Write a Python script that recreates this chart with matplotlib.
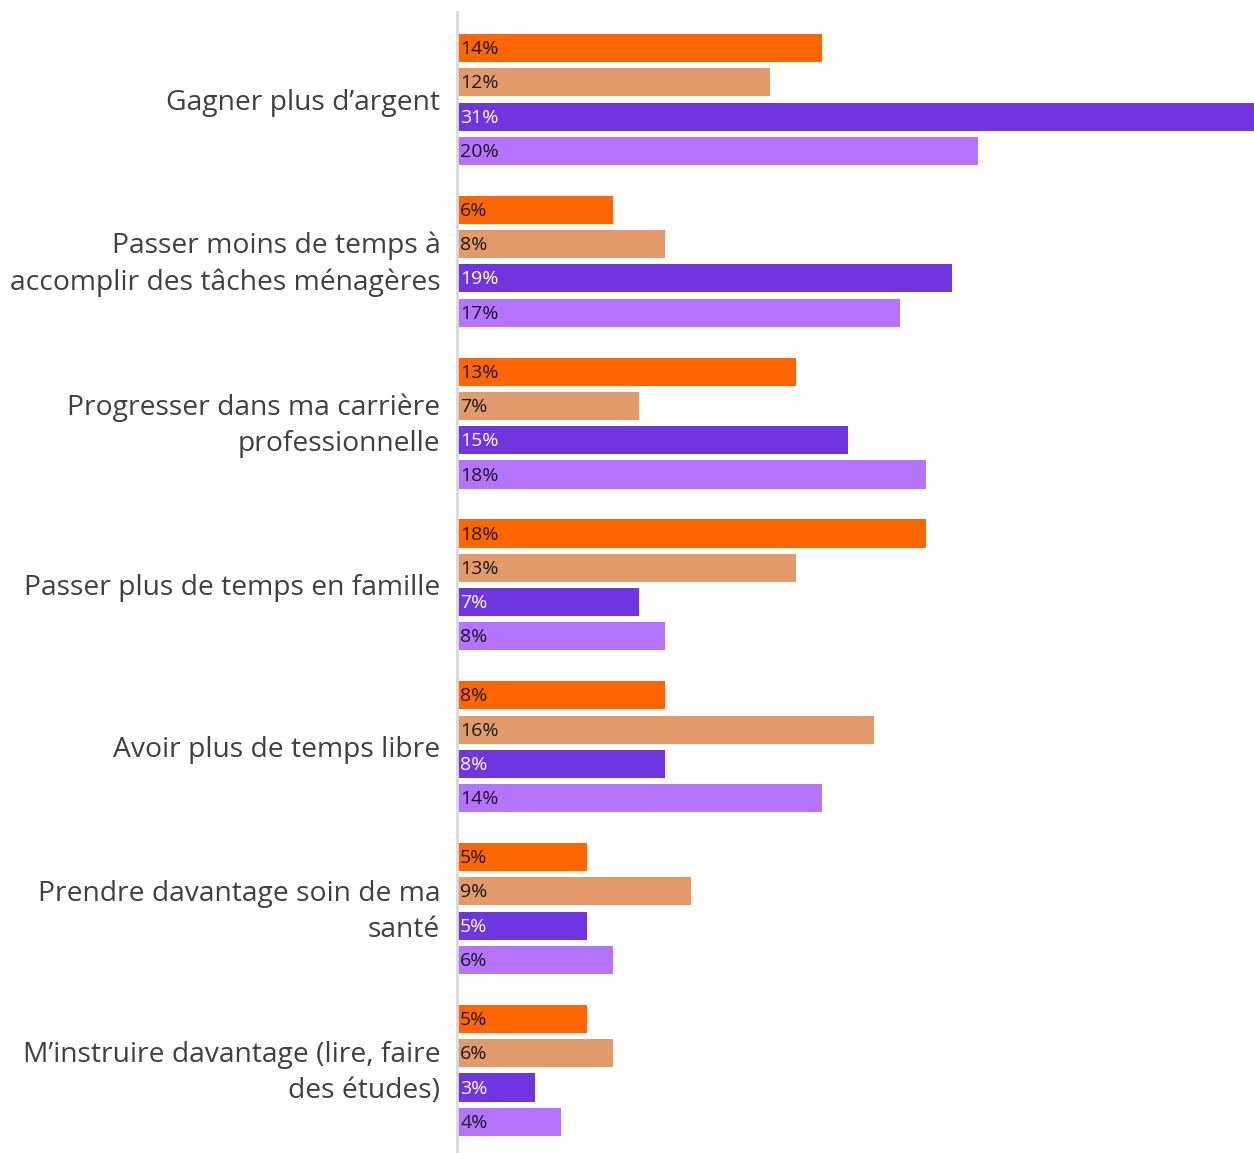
import matplotlib.pyplot as plt
import numpy as np

plt.rcParams['font.family'] = ['Open Sans', 'DejaVu Sans']

categories = ["Gagner plus d’argent",
    "Passer moins de temps à\naccomplir des tâches ménagères",
    "Progresser dans ma carrière\nprofessionnelle",
    "Passer plus de temps en famille",
    "Avoir plus de temps libre",
    "Prendre davantage soin de ma\nsanté",
    "M’instruire davantage (lire, faire\ndes études)"]

serie1 = [14, 6, 13, 18, 8, 5, 5]
serie2 = [12, 8, 7, 13, 16, 9, 6]
serie3 = [31, 19, 15, 7, 8, 5, 3]
serie4 = [20, 17, 18, 8, 14, 6, 4]

colors = ["#FF6600", "#E39A6B", "#6F35E0", "#B574FF"]
text_colors = ["#1a1a1a", "#1a1a1a", "white", "#1a1a1a"]

fig = plt.figure(figsize=(12.54, 11.53), dpi=100)
ax = fig.add_axes([457 / 1254, 0, 1 - 457 / 1254, 1 - 12 / 1153])

group_step = 4.72
base = np.arange(len(categories)) * group_step
for j, vals in enumerate([serie1, serie2, serie3, serie4]):
    y = base + j
    ax.barh(y, vals, height=0.82, color=colors[j])
    for yy, v in zip(y, vals):
        ax.text(0.12, yy + 0.03, f"{v}%", va='center', ha='left', fontsize=14,
                color=text_colors[j])

# multi-line labels sit a little higher in the original
label_pos = [b + 1.5 - (0.13 if "\n" in c else 0) for b, c in zip(base, categories)]

ax.set_xlim(0, 30.6)
ax.set_ylim(32.23, -1.05)
ax.set_yticks(label_pos)
ax.set_yticklabels(categories, fontsize=20.3, color="#404040", linespacing=1.38)
ax.tick_params(axis='y', length=0, pad=12)
ax.set_xticks([])
for s in ['top', 'right', 'bottom']:
    ax.spines[s].set_visible(False)
ax.spines['left'].set_color("#d9d9d9")
ax.spines['left'].set_linewidth(2)

plt.savefig("out.png", dpi=100)
